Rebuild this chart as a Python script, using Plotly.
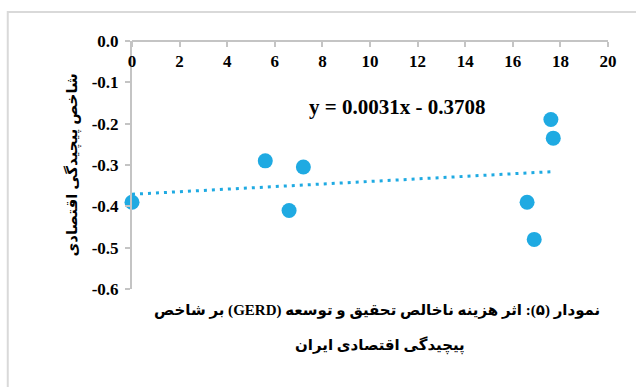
import plotly.graph_objects as go

# Data
gerd = [0.0, 5.6, 7.2, 6.6, 17.6, 17.7, 16.6, 16.9]
eci = [-0.39, -0.29, -0.305, -0.41, -0.19, -0.235, -0.39, -0.48]
slope = 0.0031
intercept = -0.3708
x_ticks = [0, 2, 4, 6, 8, 10, 12, 14, 16, 18, 20]
x_ticktext = ["0", "2", "4", "6", "8", "10", "12", "14", "16", "18", "20"]
y_ticks = [0.0, -0.1, -0.2, -0.3, -0.4, -0.5, -0.6]
y_ticktext = ["0.0", "-0.1", "-0.2", "-0.3", "-0.4", "-0.5", "-0.6"]
equation_text = "y = 0.0031x - 0.3708"
y_title = "شاخص پیچیدگی اقتصادی"
caption_line1 = "نمودار (۵): اثر هزینه ناخالص تحقیق و توسعه (GERD) بر شاخص"
caption_line2 = "پیچیدگی اقتصادی ایران"

BLUE = "#1FAAE2"
GRAY = "#C4C4C4"
SERIF = "Liberation Serif, Times New Roman, serif"
PERSIAN = "Liberation Serif, DejaVu Sans, sans-serif"
RLE, PDF = "\u202B", "\u202C"

trend_x = [min(gerd), max(gerd)]
trend_y = [slope * v + intercept for v in trend_x]

fig = go.Figure()
fig.add_trace(go.Scatter(
    x=trend_x, y=trend_y, mode="lines",
    line=dict(color=BLUE, width=3, dash="3px,5px"),
    hoverinfo="skip", showlegend=False, cliponaxis=False,
))
fig.add_trace(go.Scatter(
    x=gerd, y=eci, mode="markers",
    marker=dict(color=BLUE, size=15, line=dict(width=0)),
    showlegend=False, cliponaxis=False,
))

tickfont = dict(family=SERIF, size=17, color="black")

fig.update_layout(
    width=636, height=387,
    margin=dict(l=132, r=28, t=41, b=98),
    paper_bgcolor="white", plot_bgcolor="white",
    font=dict(family=SERIF, size=16, color="black"),
    xaxis=dict(
        range=[0, 20], side="bottom", anchor="free", position=1,
        tickvals=x_ticks, ticktext=["<b>" + t + "</b>" for t in x_ticktext],
        ticks="outside", ticklen=5, tickcolor=GRAY, tickwidth=2,
        showline=True, linecolor=GRAY, linewidth=2,
        showgrid=False, zeroline=False, tickfont=tickfont,
    ),
    yaxis=dict(
        range=[-0.6, 0.0], tickvals=y_ticks, ticktext=["<b>" + t + "</b>" for t in y_ticktext],
        ticks="outside", ticklen=5, tickcolor=GRAY, tickwidth=2,
        ticklabelstandoff=3,
        showline=True, linecolor=GRAY, linewidth=2,
        showgrid=False, zeroline=False, tickfont=tickfont,
    ),
    shapes=[dict(
        type="rect", xref="paper", yref="paper",
        x0=-0.261, x1=1.07, y0=-0.42, y1=1.117,
        line=dict(color="#D9D9D9", width=2), fillcolor="rgba(0,0,0,0)",
        layer="below",
    )],
    annotations=[
        dict(text="<b>" + equation_text + "</b>", x=11.15, y=-0.16, xref="x", yref="y",
             xanchor="center", yanchor="middle",
             showarrow=False, font=dict(family=SERIF, size=21, color="black")),
        dict(text="<b>" + RLE + y_title + PDF + "</b>", x=-0.127, y=0.5,
             xref="paper", yref="paper", xanchor="center", yanchor="middle",
             textangle=-90, showarrow=False,
             font=dict(family=PERSIAN, size=15, color="black")),
        dict(text="<b>" + RLE + caption_line1 + PDF + "</b>", x=0.515, y=-0.085,
             xref="paper", yref="paper", xanchor="center", yanchor="middle",
             showarrow=False, font=dict(family=PERSIAN, size=15, color="black")),
        dict(text="<b>" + RLE + caption_line2 + PDF + "</b>", x=0.52, y=-0.228,
             xref="paper", yref="paper", xanchor="center", yanchor="middle",
             showarrow=False, font=dict(family=PERSIAN, size=15, color="black")),
    ],
)

fig.write_html("out.html", config={"displayModeBar": False},
               post_script="document.body.style.margin='0';")
